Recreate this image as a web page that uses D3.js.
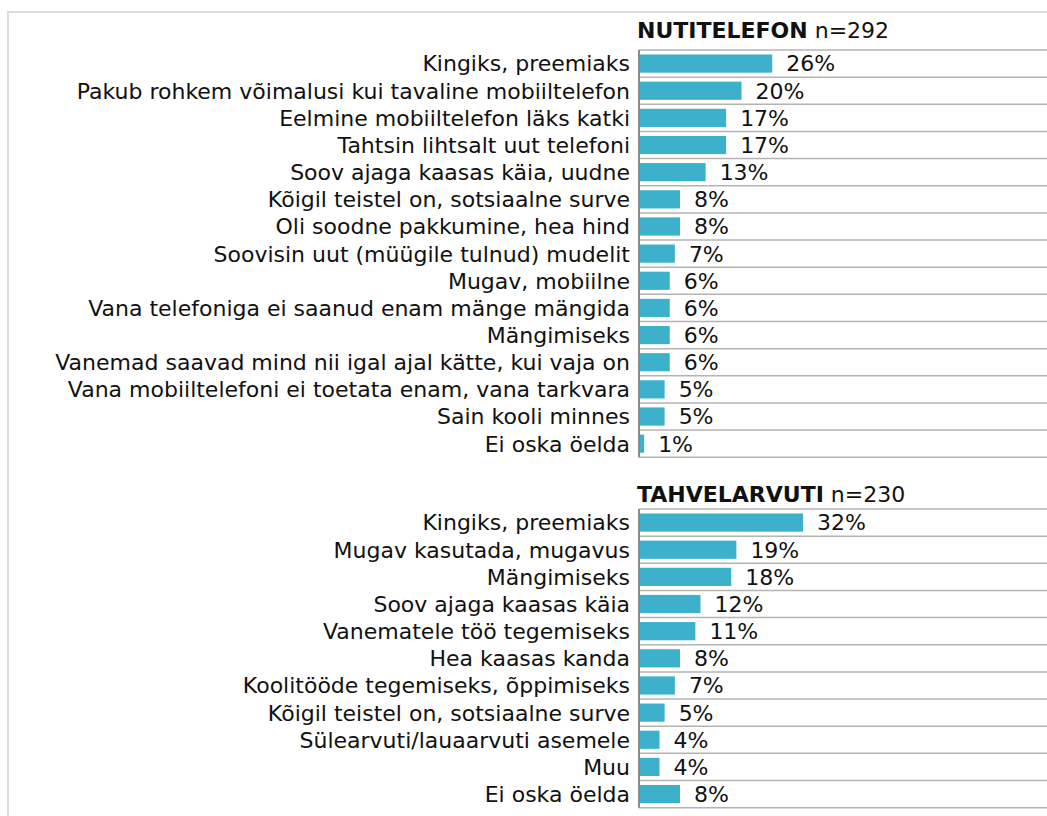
<!DOCTYPE html>
<html>
<head>
<meta charset="utf-8">
<script src="https://cdn.jsdelivr.net/npm/d3@7"></script>
<style>
	body { margin: 0; background: #fff; }
	svg text { font-family: "DejaVu Sans", Verdana, sans-serif; }
</style>
</head>
<body>
<div id="chart"></div>
<script>
// Data
const phoneCategories = [
	"Kingiks, preemiaks",
	"Pakub rohkem võimalusi kui tavaline mobiiltelefon",
	"Eelmine mobiiltelefon läks katki",
	"Tahtsin lihtsalt uut telefoni",
	"Soov ajaga kaasas käia, uudne",
	"Kõigil teistel on, sotsiaalne surve",
	"Oli soodne pakkumine, hea hind",
	"Soovisin uut (müügile tulnud) mudelit",
	"Mugav, mobiilne",
	"Vana telefoniga ei saanud enam mänge mängida",
	"Mängimiseks",
	"Vanemad saavad mind nii igal ajal kätte, kui vaja on",
	"Vana mobiiltelefoni ei toetata enam, vana tarkvara",
	"Sain kooli minnes",
	"Ei oska öelda"
];
const phoneValues = [26, 20, 17, 17, 13, 8, 8, 7, 6, 6, 6, 6, 5, 5, 1];

const tabletCategories = [
	"Kingiks, preemiaks",
	"Mugav kasutada, mugavus",
	"Mängimiseks",
	"Soov ajaga kaasas käia",
	"Vanematele töö tegemiseks",
	"Hea kaasas kanda",
	"Koolitööde tegemiseks, õppimiseks",
	"Kõigil teistel on, sotsiaalne surve",
	"Sülearvuti/lauaarvuti asemele",
	"Muu",
	"Ei oska öelda"
];
const tabletValues = [32, 19, 18, 12, 11, 8, 7, 5, 4, 4, 8];

const groupTitles = ["NUTITELEFON", "TAHVELARVUTI"];
const groupN = ["n=292", "n=230"];

const width = 1047, height = 816;
const axisX = 639;
const rowStep = 27.15;
const fontSize = 22;

const svg = d3.select("#chart")
	.append("svg")
	.attr("width", width)
	.attr("height", height);

// Outer frame
svg.append("rect")
	.attr("x", 8)
	.attr("y", 12)
	.attr("width", width + 20)
	.attr("height", height + 20)
	.attr("fill", "none")
	.attr("stroke", "#dcdcdc")
	.attr("stroke-width", 2);

const x = d3.scaleLinear().domain([0, 80]).range([axisX, axisX + 410]);

function drawGroup(cats, vals, top, titleGap, title, n) {
	const y = d3.scaleBand()
		.domain(cats)
		.range([top, top + cats.length * rowStep])
		.paddingInner(0.33)
		.paddingOuter(0.165);

	const g = svg.append("g");

	// Title
	const t = g.append("text")
		.attr("x", axisX - 2)
		.attr("y", top - titleGap)
		.attr("font-size", fontSize)
		.attr("fill", "#111");
	t.append("tspan").attr("font-weight", "bold").text(title);
	t.append("tspan").text(" " + n);

	// Row separators
	const bounds = d3.range(cats.length + 1).map((i) => top + i * y.step());
	g.selectAll("line.row")
		.data(bounds)
		.enter()
		.append("line")
		.attr("x1", axisX)
		.attr("x2", width)
		.attr("y1", (d) => d)
		.attr("y2", (d) => d)
		.attr("stroke", "#b4b4b4")
		.attr("stroke-width", 1.5);

	// Bars
	g.selectAll("rect.bar")
		.data(cats)
		.enter()
		.append("rect")
		.attr("x", x(0))
		.attr("y", (d) => y(d))
		.attr("width", (d, i) => x(vals[i]) - x(0))
		.attr("height", y.bandwidth())
		.attr("fill", "#3db0cc");

	// Value labels
	g.selectAll("text.val")
		.data(cats)
		.enter()
		.append("text")
		.attr("x", (d, i) => x(vals[i]) + 14)
		.attr("y", (d) => y(d) + y.bandwidth() / 2)
		.attr("dy", "0.36em")
		.attr("font-size", fontSize)
		.attr("fill", "#111")
		.text((d, i) => vals[i] + "%");

	// Category labels
	g.selectAll("text.cat")
		.data(cats)
		.enter()
		.append("text")
		.attr("x", axisX - 9)
		.attr("y", (d) => y(d) + y.bandwidth() / 2)
		.attr("dy", "0.36em")
		.attr("text-anchor", "end")
		.attr("font-size", fontSize)
		.attr("fill", "#111")
		.text((d) => d);

	// Axis line
	g.append("line")
		.attr("x1", axisX)
		.attr("x2", axisX)
		.attr("y1", top)
		.attr("y2", top + cats.length * y.step())
		.attr("stroke", "#8c8c8c")
		.attr("stroke-width", 2);
}

drawGroup(phoneCategories, phoneValues, 50, 12, groupTitles[0], groupN[0]);
drawGroup(tabletCategories, tabletValues, 509, 7.5, groupTitles[1], groupN[1]);
</script>
</body>
</html>
